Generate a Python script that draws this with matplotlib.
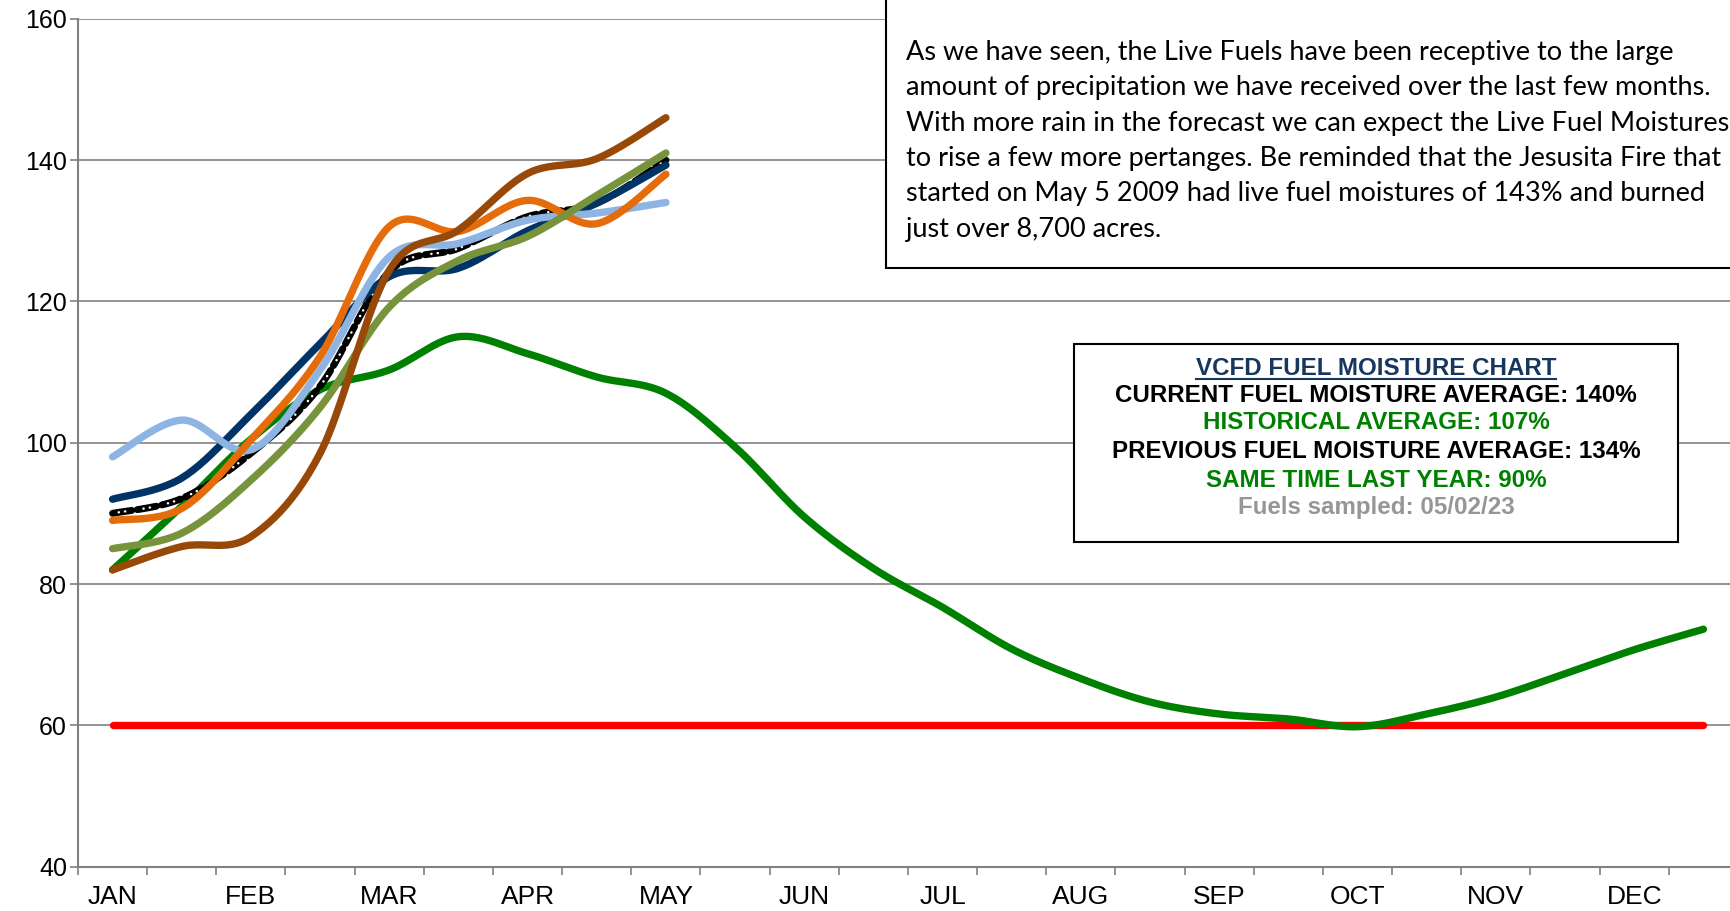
import numpy as np
import matplotlib
matplotlib.use('Agg')
import matplotlib.pyplot as plt
from matplotlib.patches import Rectangle
from matplotlib.lines import Line2D

# ======================
# DATA
# ======================

months = ['JAN', 'FEB', 'MAR', 'APR', 'MAY', 'JUN',
          'JUL', 'AUG', 'SEP', 'OCT', 'NOV', 'DEC']

# 24 half-month sample slots (1st and 15th of each month)
historical = [82, 91, 100.5, 107.5, 110.3, 115, 112.6, 109.3, 107, 99.4,
              89.5, 82.2, 76.7, 70.8, 66.6, 63.3, 61.6, 60.9, 59.8, 61.6,
              64, 67.3, 70.7, 73.6]
critical = [60] * 24

# current season, Jan 1 .. May 1 (9 samples)
average = [90, 92.1, 98.5, 108, 124.2, 127.5, 132, 133.9, 140]
site_navy = [92, 95, 104, 114, 123.5, 124.7, 130, 133.9, 139.3]
site_lightblue = [98, 103.2, 99, 110.3, 126.3, 128.2, 131.5, 132.5, 134]
site_orange = [89, 90.7, 100.4, 112.2, 130.6, 129.9, 134.3, 131, 138]
site_olive = [85, 87.2, 94.7, 105, 119.2, 125.8, 129.2, 135, 141]
site_brown = [82, 85.3, 86.7, 98.5, 124.4, 130.1, 138.1, 140.2, 146]

note_lines = [
    'As we have seen, the Live Fuels have been receptive to the large',
    'amount of precipitation we have received over the last few months.',
    'With more rain in the forecast we can expect the Live Fuel Moistures',
    'to rise a few more pertanges. Be reminded that the Jesusita Fire that',
    'started on May 5 2009 had live fuel moistures of 143% and burned',
    'just over 8,700 acres.',
]

legend_lines = [
    ('VCFD FUEL MOISTURE CHART', '#17375E'),
    ('CURRENT FUEL MOISTURE AVERAGE: 140%', 'black'),
    ('HISTORICAL AVERAGE: 107%', '#008000'),
    ('PREVIOUS FUEL MOISTURE AVERAGE: 134%', 'black'),
    ('SAME TIME LAST YEAR: 90%', '#008000'),
    ('Fuels sampled: 05/02/23', '#969696'),
]

# ======================
# FUNCTIONS
# ======================

W, H = 1731, 911


def px(x, y):
    # pixel position (from top-left) to figure fraction
    return x / W, 1 - y / H


def smooth(xs, ys, n=24):
    # excel style smoothed line (bezier through the points)
    p = np.column_stack([xs, ys]).astype(float)
    ext = np.vstack([p[0], p, p[-1]])
    t = np.linspace(0, 1, n, endpoint=False)[:, None]
    out = []
    for i in range(len(p) - 1):
        p0, p3 = ext[i + 1], ext[i + 2]
        c1 = p0 + (ext[i + 2] - ext[i]) / 6
        c2 = p3 - (ext[i + 3] - ext[i + 1]) / 6
        out.append((1 - t) ** 3 * p0 + 3 * (1 - t) ** 2 * t * c1
                   + 3 * (1 - t) * t ** 2 * c2 + t ** 3 * p3)
    out.append(p[-1:])
    out = np.vstack(out)
    return out[:, 0], out[:, 1]


plt.rcParams['font.family'] = ['Liberation Sans', 'DejaVu Sans']
plt.rcParams['lines.scale_dashes'] = False

fig = plt.figure(figsize=(W / 100, H / 100), dpi=100)
ax = fig.add_axes([78 / W, (H - 866.6) / H, (1738 - 78) / W, (866.6 - 18.8) / H])

x24 = np.arange(24) + 0.5
x9 = x24[:9]

lw = 5.3
style = dict(lw=lw, solid_capstyle='round')

ax.plot(*smooth(x24, critical), color='#FF0000', **style, zorder=3)
ax.plot(*smooth(x24, historical), color='#008000', **style, zorder=4)

# average: black dashes with white dots inside
sx, sy = smooth(x9, average)
ax.plot(sx, sy, color='black', lw=5.0, linestyle=(0, (14, 4)),
        dash_capstyle='round', zorder=5)
ax.plot(sx, sy, color='white', lw=1.8, linestyle=(13.5, (0.1, 4.5, 0.1, 13.3)),
        dash_capstyle='round', zorder=5)

ax.plot(*smooth(x9, site_navy), color='#003366', **style, zorder=6)
ax.plot(*smooth(x9, site_lightblue), color='#8DB4E2', **style, zorder=7)
ax.plot(*smooth(x9, site_orange), color='#E46C0A', **style, zorder=8)
ax.plot(*smooth(x9, site_olive), color='#77933C', **style, zorder=9)
ax.plot(*smooth(x9, site_brown), color='#984807', **style, zorder=10)

# axes
ax.set_xlim(0, 24)
ax.set_ylim(40, 160)
ax.set_yticks(range(40, 161, 20))
ax.yaxis.grid(True, color='#808080', lw=1.2)
ax.set_axisbelow(True)
for s in ['top', 'right']:
    ax.spines[s].set_visible(False)
for s in ['left', 'bottom']:
    ax.spines[s].set_color('#808080')
    ax.spines[s].set_linewidth(1.5)

ax.set_xticks(range(0, 25), minor=True)
ax.set_xticks(np.arange(12) * 2 + 0.5)
ax.set_xticklabels(months)
ax.tick_params(axis='x', which='major', length=0, pad=13, labelsize=19)
ax.tick_params(axis='x', which='minor', length=6, width=1.2, color='#808080')
ax.tick_params(axis='y', length=6, width=1.2, color='#808080', pad=2, labelsize=18)

# note box at top right
fig.patches.append(Rectangle(px(886, 268), 0.6, 0.4, transform=fig.transFigure,
                             facecolor='white', edgecolor='black', lw=1.5, zorder=20))
for i, line in enumerate(note_lines):
    fig.text(*px(906, 60 + i * 35.3), line, family=['Lato', 'DejaVu Sans'],
             fontsize=19.5, va='baseline', ha='left', zorder=21)

# summary box
x0, y0 = px(1074, 542)
x1, y1 = px(1678, 344)
fig.patches.append(Rectangle((x0, y0), x1 - x0, y1 - y0, transform=fig.transFigure,
                             facecolor='white', edgecolor='black', lw=1.5, zorder=20))
centers = [368.7, 395.2, 422.8, 451.5, 480.2, 507.8]
texts = []
for (line, col), yc in zip(legend_lines, centers):
    texts.append(fig.text(*px(1376, yc), line, color=col, fontsize=17.4,
                          fontweight='bold', ha='center', va='center', zorder=21))

# underline the title of the summary box
fig.canvas.draw()
bb = texts[0].get_window_extent()
fig.add_artist(Line2D([bb.x0 / W, bb.x1 / W], [(bb.y0 + 1) / H] * 2,
                      transform=fig.transFigure, color='#17375E', lw=1.5, zorder=21))

fig.savefig('out.png', dpi=100)
